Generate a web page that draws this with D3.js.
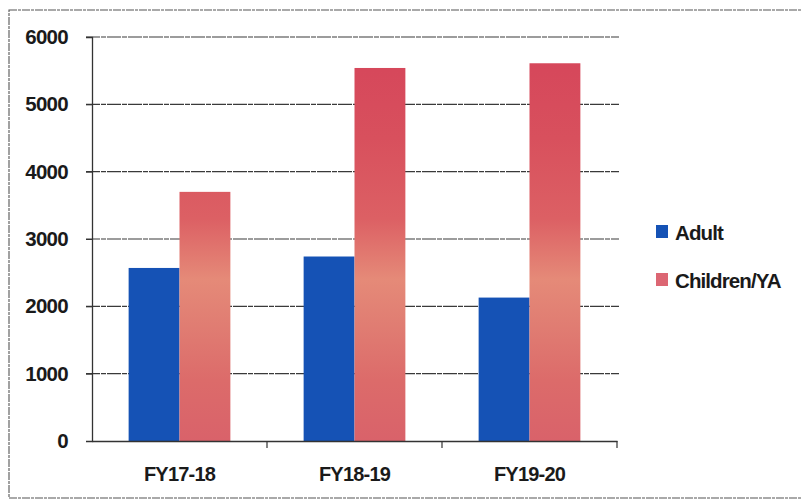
<!DOCTYPE html>
<html><head><meta charset="utf-8">
<script src="https://cdn.jsdelivr.net/npm/d3@7"></script>
<style>
html,body{margin:0;padding:0;background:#fff;}
svg{display:block;}
text{font-family:"Liberation Sans",Arial,sans-serif;font-weight:bold;fill:#1a1a1a;}
</style></head>
<body>
<svg id="chart" width="802" height="501"></svg>
<script>
const categories = ["FY17-18", "FY18-19", "FY19-20"];
const seriesNames = ["Adult", "Children/YA"];
const adultValues = [2570, 2740, 2130];
const childrenValues = [3700, 5540, 5610];
const yTicks = [0, 1000, 2000, 3000, 4000, 5000, 6000];

const svg = d3.select("#chart");
const m = {left: 92, right: 185, top: 37, bottom: 60};
const W = 802, H = 501;
const plotRight = W - m.right;   // ~617
const plotBottom = H - m.bottom; // 441

// frame
svg.append("rect").attr("x", 9).attr("y", 10).attr("width", 800).attr("height", 488)
  .attr("fill", "#fff").attr("stroke", "#555").attr("stroke-width", 1.1).attr("stroke-dasharray", "8,1,3,1");

const x0 = d3.scaleBand().domain(categories).range([m.left, plotRight]).paddingInner(0).paddingOuter(0);
const x1 = d3.scaleBand().domain(seriesNames).range([0, x0.bandwidth()]).paddingInner(0).paddingOuter(0.72);
const y = d3.scaleLinear().domain([0, 6000]).range([plotBottom, m.top]);

// gradient for children bars
const defs = svg.append("defs");
const grad = defs.append("linearGradient").attr("id", "childGrad")
  .attr("gradientUnits", "userSpaceOnUse").attr("x1", 0).attr("x2", 0)
  .attr("y1", y(6000)).attr("y2", y(0));
[[0, "#d5445a"], [0.25, "#d8505d"], [0.45, "#dc6064"], [0.6, "#e58a78"], [0.72, "#e07c72"], [0.85, "#dc6b6a"], [1, "#d9626a"]]
  .forEach(([o, c]) => grad.append("stop").attr("offset", o).attr("stop-color", c));

// gridlines
svg.append("g").selectAll("line").data(yTicks.filter(d => d > 0)).join("line")
  .attr("x1", m.left - 6).attr("x2", plotRight + 2)
  .attr("y1", d => y(d)).attr("y2", d => y(d))
  .attr("stroke", "#3a3a3a").attr("stroke-width", 1.2).attr("stroke-dasharray", "14,1,5,1");

// bars
const data = categories.map((c, i) => ({cat: c, vals: [adultValues[i], childrenValues[i]]}));
const colors = {"Adult": "#1552b5", "Children/YA": "url(#childGrad)"};
const g = svg.append("g").selectAll("g").data(data).join("g")
  .attr("transform", d => `translate(${x0(d.cat)},0)`);
g.selectAll("rect").data(d => seriesNames.map((s, k) => ({s, v: d.vals[k]}))).join("rect")
  .attr("x", d => x1(d.s)).attr("width", x1.bandwidth())
  .attr("y", d => y(d.v)).attr("height", d => y(0) - y(d.v))
  .attr("fill", d => colors[d.s]);

// y axis
const yAxis = d3.axisLeft(y).tickValues(yTicks).tickSize(6).tickPadding(18).tickFormat(d3.format("d"));
const ya = svg.append("g").attr("transform", `translate(${m.left},0)`).call(yAxis);
ya.select(".domain").attr("stroke", "#333").attr("stroke-width", 1.3);
ya.selectAll(".tick line").attr("stroke", "#333");
ya.selectAll("text").attr("font-size", 20.5).attr("letter-spacing", -0.7).attr("fill", "#1a1a1a")
  .attr("font-family", '"Liberation Sans",Arial,sans-serif').attr("font-weight", "bold");

// x axis
const xAxis = d3.axisBottom(x0).tickSize(0).tickPadding(26);
const xa = svg.append("g").attr("transform", `translate(0,${plotBottom})`).call(xAxis);
xa.select(".domain").attr("stroke", "#333").attr("stroke-width", 1.3);
xa.selectAll("text").attr("font-size", 20).attr("letter-spacing", -0.8).attr("fill", "#1a1a1a")
  .attr("font-family", '"Liberation Sans",Arial,sans-serif').attr("font-weight", "bold");
// boundary ticks
const bounds = categories.map(c => x0(c) + x0.bandwidth());
xa.selectAll(".btick").data(bounds).join("line").attr("class", "btick")
  .attr("x1", d => d).attr("x2", d => d).attr("y1", 0).attr("y2", 7)
  .attr("stroke", "#333").attr("stroke-width", 1.2);

// legend
const legendColors = ["#1552b5", "#dc6673"];
const lg = svg.append("g").selectAll("g").data(seriesNames).join("g")
  .attr("transform", (d, i) => `translate(656,${232 + i * 48})`);
lg.append("rect").attr("x", 0).attr("y", -7).attr("width", 12).attr("height", 13)
  .attr("fill", (d, i) => legendColors[i]);
lg.append("text").attr("x", 19).attr("y", 7.5).attr("font-size", 20.5).attr("letter-spacing", -0.9)
  .text(d => d);
</script>
</body></html>
